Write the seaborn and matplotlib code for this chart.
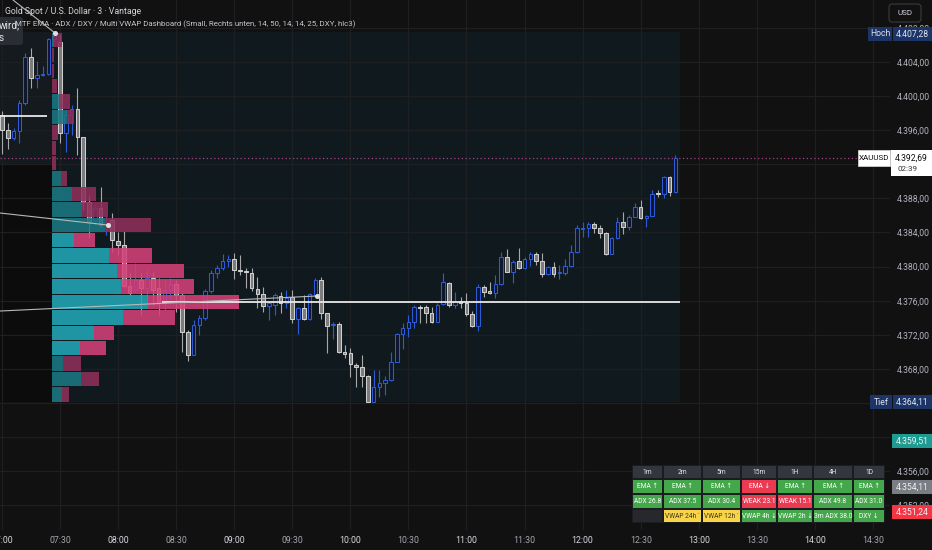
import matplotlib
matplotlib.use("Agg")
import numpy as np
import pandas as pd
import matplotlib.pyplot as plt
import seaborn as sns
from matplotlib.patches import Rectangle, FancyBboxPatch
from matplotlib.transforms import blended_transform_factory

# ---------------- data ----------------
time_labels = ["07:00", "07:30", "08:00", "08:30", "09:00", "09:30", "10:00", "10:30",
               "11:00", "11:30", "12:00", "12:30", "13:00", "13:30", "14:00", "14:30"]
candles_per_label = 10  # 3-minute candles, label every 30 minutes

opens = [4397.77, 4396.01, 4395.07, 4395.89, 4399.18, 4404.57, 4402.11, 4402.46, 4402.57, 4406.68,
         4406.33, 4395.66, 4397.77, 4398.47, 4395.19, 4387.57, 4385.46, 4386.87, 4384.87, 4385.46,
         4383.00, 4382.53, 4377.72, 4377.25, 4378.43, 4377.49, 4378.66, 4377.49, 4375.73, 4377.25,
         4377.96, 4376.67, 4372.33, 4369.63, 4373.15, 4373.97, 4377.14, 4379.25, 4379.83, 4380.65,
         4380.89, 4379.60, 4379.48, 4379.25, 4377.37, 4376.78, 4375.38, 4375.49, 4376.55, 4375.73,
         4376.43, 4373.85, 4375.14, 4373.85, 4376.67, 4378.43, 4374.56, 4373.15, 4373.27, 4369.98,
         4369.87, 4368.46, 4368.23, 4367.17, 4364.12, 4365.88, 4366.35, 4366.70, 4368.81, 4372.10,
         4372.80, 4373.50, 4375.26, 4375.26, 4374.56, 4373.50, 4375.61, 4378.07, 4375.49, 4375.96,
         4375.73, 4374.44, 4373.03, 4377.60, 4377.02, 4376.90, 4377.96, 4381.12, 4379.36, 4380.65,
         4379.83, 4380.89, 4381.47, 4380.65, 4379.13, 4379.95, 4379.19, 4379.25, 4380.07, 4381.71,
         4384.46, 4384.52, 4384.99, 4384.52, 4383.94, 4381.47, 4383.35, 4385.22, 4384.64, 4385.81,
         4386.98, 4385.69, 4385.93, 4388.62, 4388.51, 4390.50, 4388.74]
highs = [4398.24, 4396.83, 4396.24, 4399.53, 4405.04, 4405.62, 4404.10, 4403.51, 4406.80, 4407.28,
         4407.15, 4398.35, 4398.94, 4400.93, 4395.19, 4388.39, 4387.22, 4389.33, 4386.05, 4386.28,
         4384.05, 4384.17, 4379.25, 4380.42, 4379.25, 4379.60, 4379.36, 4378.66, 4378.43, 4378.66,
         4378.43, 4376.90, 4372.56, 4373.74, 4374.32, 4377.37, 4379.60, 4380.18, 4381.47, 4381.36,
         4381.59, 4381.36, 4379.83, 4379.83, 4378.78, 4377.60, 4375.96, 4376.90, 4377.02, 4377.25,
         4377.25, 4375.26, 4376.67, 4376.90, 4378.66, 4378.78, 4374.56, 4373.50, 4373.50, 4370.81,
         4370.45, 4368.70, 4369.63, 4367.29, 4367.87, 4367.87, 4367.17, 4369.98, 4372.21, 4373.38,
         4374.32, 4375.49, 4375.49, 4375.49, 4375.26, 4375.73, 4379.25, 4378.19, 4377.02, 4376.43,
         4376.90, 4374.79, 4377.96, 4377.84, 4378.19, 4379.01, 4381.71, 4382.06, 4380.77, 4382.18,
         4381.12, 4381.71, 4381.71, 4381.59, 4380.07, 4380.54, 4380.18, 4380.89, 4382.53, 4384.87,
         4385.22, 4385.22, 4385.22, 4384.87, 4384.05, 4383.47, 4385.81, 4386.40, 4386.05, 4387.45,
         4387.80, 4386.05, 4388.98, 4388.98, 4390.62, 4390.62, 4393.08]
lows = [4393.20, 4393.78, 4394.84, 4394.49, 4398.94, 4400.93, 4400.93, 4402.34, 4402.46, 4406.33,
        4394.49, 4393.43, 4395.42, 4393.08, 4386.63, 4383.35, 4384.87, 4384.64, 4383.70, 4381.71,
        4381.36, 4377.60, 4376.67, 4377.02, 4374.32, 4376.08, 4375.49, 4374.32, 4374.91, 4376.32,
        4374.67, 4369.98, 4368.93, 4369.63, 4371.98, 4373.74, 4376.90, 4378.66, 4379.60, 4379.95,
        4378.54, 4379.01, 4377.49, 4377.14, 4375.14, 4374.67, 4373.74, 4374.32, 4374.56, 4375.14,
        4373.38, 4372.10, 4373.74, 4373.74, 4376.43, 4373.85, 4369.87, 4371.51, 4369.87, 4369.28,
        4367.05, 4365.88, 4365.88, 4364.11, 4364.11, 4364.71, 4364.94, 4366.59, 4368.81, 4370.34,
        4371.74, 4372.80, 4373.38, 4373.38, 4373.38, 4373.50, 4375.49, 4375.26, 4375.14, 4375.14,
        4374.21, 4372.92, 4372.45, 4376.43, 4376.78, 4376.32, 4377.84, 4379.36, 4378.07, 4379.72,
        4379.72, 4380.07, 4380.18, 4378.78, 4379.01, 4378.78, 4378.54, 4379.01, 4379.95, 4381.59,
        4383.47, 4383.47, 4383.94, 4383.35, 4381.36, 4381.47, 4383.23, 4383.82, 4384.29, 4385.81,
        4385.58, 4384.64, 4385.93, 4388.16, 4388.04, 4388.27, 4388.62]
closes = [4396.01, 4395.07, 4395.89, 4399.18, 4404.57, 4402.11, 4402.46, 4402.57, 4406.68, 4407.03,
          4395.66, 4397.77, 4398.47, 4395.19, 4387.57, 4385.22, 4386.87, 4384.87, 4385.11, 4383.11,
          4382.53, 4377.72, 4376.90, 4378.43, 4377.49, 4378.66, 4377.25, 4375.73, 4377.25, 4377.96,
          4376.67, 4372.33, 4369.63, 4373.15, 4373.97, 4377.14, 4379.25, 4379.83, 4380.65, 4380.89,
          4379.60, 4379.48, 4379.42, 4377.49, 4376.78, 4375.38, 4375.73, 4376.67, 4375.73, 4376.32,
          4373.85, 4375.14, 4373.85, 4376.78, 4378.43, 4374.56, 4373.03, 4373.27, 4369.98, 4369.75,
          4368.58, 4368.23, 4367.17, 4364.12, 4365.88, 4366.35, 4366.70, 4368.81, 4372.10, 4372.80,
          4373.50, 4375.26, 4375.20, 4374.56, 4373.50, 4375.49, 4378.19, 4375.49, 4375.96, 4375.73,
          4374.44, 4373.03, 4377.60, 4377.02, 4376.96, 4377.96, 4381.12, 4379.36, 4380.54, 4379.83,
          4380.89, 4381.47, 4380.65, 4379.13, 4379.95, 4379.13, 4379.25, 4380.07, 4381.71, 4384.52,
          4384.52, 4384.99, 4384.52, 4383.94, 4381.47, 4383.35, 4385.22, 4384.64, 4385.81, 4386.98,
          4385.69, 4385.93, 4388.51, 4388.51, 4390.50, 4388.74, 4392.69]

# volume profile rows (top -> bottom), buy / sell volume (arbitrary units)
profile_buy = [2, 0, 0, 0, 7, 15, 0, 0, 0, 9, 20, 30, 53, 22, 57, 65, 69, 96, 71, 42, 28, 11, 29, 10]
profile_sell = [8, 2, 2, 5, 11, 7, 6, 4, 4, 6, 24, 26, 46, 21, 43, 67, 73, 91, 52, 20, 26, 18, 18, 7]
value_area_rows = [13, 14, 15, 16, 17, 18, 19, 20]

poc_price = 4375.79
last_price = 4392.69
countdown = "02:39"
day_high = 4407.28
day_low = 4364.11
level_prices = [4359.51, 4354.11, 4351.24]
level_colors = ["#1f9c91", "#7b7d84", "#f23645"]
price_ticks = [4352, 4356, 4360, 4368, 4372, 4376, 4380, 4384, 4388, 4396, 4400, 4404, 4408]
grid_prices = list(range(4352, 4409, 4))

# drawn trend lines (candle index, price)
line_a = ([-0.33, 18.27], [4386.28, 4384.87])
line_b = ([-0.33, 54.26], [4374.79, 4376.55])
line_c = ([1.91, 9.14], [4411.25, 4407.38])
line_left = ([-0.33, 7.77], [4397.69, 4397.69])
old_box_split = 4391.9

# dashboard table
tbl_head = ["1m", "2m", "5m", "15m", "1H", "4H", "1D"]
tbl_ema = ["EMA ↑", "EMA ↑", "EMA ↑", "EMA ↓", "EMA ↑", "EMA ↑", "EMA ↑"]
tbl_ema_state = ["g", "g", "g", "r", "g", "g", "g"]
tbl_adx = ["ADX 26.8", "ADX 37.5", "ADX 30.4", "WEAK 23.1", "WEAK 15.1", "ADX 49.8", "ADX 31.0"]
tbl_adx_state = ["g", "g", "g", "r", "r", "g", "g"]
tbl_vwap = ["", "VWAP 24h ˙", "VWAP 12h ˙", "VWAP 4h ↓", "VWAP 2h ↓", "3m ADX 38.0", "DXY ↓"]
tbl_vwap_state = ["e", "y", "y", "g", "g", "g", "g"]

# ---------------- style ----------------
BG = "#111111"
BOX = "#101a1e"
GRID = "#1d1f21"
BULL_EDGE = "#2c5ad8"
BULL_FACE = "#0e1630"
BEAR_EDGE = "#cfcfcf"
BEAR_FACE = "#7c7c7c"
BEAR_WICK = "#a8a8a8"
TXT = "#b2b5be"

sns.set_theme(style="dark", rc={"axes.facecolor": BG, "figure.facecolor": BG})
plt.rcParams["font.family"] = ["Roboto", "DejaVu Sans"]

fig = plt.figure(figsize=(9.32, 5.5), dpi=100)
fig.patch.set_facecolor(BG)
ax = fig.add_axes([0, 20 / 550, 890 / 932, 530 / 550])
ax.set_facecolor(BG)
for s in ax.spines.values():
    s.set_visible(False)
ax.grid(False)

n = len(opens)
xmin, xmax = -0.33, 152.94
ymin, ymax = 4349.12, 4411.25
ax.set_xlim(xmin, xmax)
ax.set_ylim(ymin, ymax)

# grid
tick_idx = np.arange(len(time_labels)) * candles_per_label
for t in tick_idx:
    ax.axvline(t, color=GRID, lw=0.9, zorder=0.6)
for p in grid_prices:
    ax.axhline(p, color=GRID, lw=0.9, zorder=0.6)

# boxes (volume-profile background)
prof_top = max(highs) + 0.2
prof_bot = min(lows)
box_left, box_right = 8.7, n - 0.25
ax.add_patch(Rectangle((box_left, prof_bot), box_right - box_left, prof_top - prof_bot,
                       facecolor=BOX, edgecolor="none", zorder=0.3))
ax.add_patch(Rectangle((xmin, old_box_split), box_left - xmin, prof_top - old_box_split,
                       facecolor="#141a1e", edgecolor="none", zorder=0.3))
ax.add_patch(Rectangle((xmin, prof_bot), box_left - xmin, old_box_split - prof_bot,
                       facecolor="#0c0c0c", edgecolor="none", zorder=0.3))

# candles
df = pd.DataFrame({"open": opens, "high": highs, "low": lows, "close": closes})
df["i"] = np.arange(n)
df["up"] = df["close"] >= df["open"]
for up, wick, fc, ec in [(True, BULL_EDGE, BULL_FACE, BULL_EDGE), (False, BEAR_WICK, BEAR_FACE, BEAR_EDGE)]:
    sub = df[df["up"] == up]
    ax.vlines(sub["i"].to_numpy(), sub["low"].to_numpy(), sub["high"].to_numpy(),
              color=wick, lw=0.8, zorder=2)
    bottom = np.minimum(sub["open"], sub["close"]).to_numpy()
    height = np.maximum((sub["close"] - sub["open"]).abs().to_numpy(), 0.12)
    ax.bar(sub["i"].to_numpy(), height, bottom=bottom, width=0.62, color=fc,
           edgecolor=ec, linewidth=0.75, zorder=2.5)

# volume profile
px_per_candle = 5.807
rows = len(profile_buy)
row_h = (prof_top - prof_bot) / rows
centers = prof_top - (np.arange(rows) + 0.5) * row_h
buy_w = np.array(profile_buy) / px_per_candle
sell_w = np.array(profile_sell) / px_per_candle
teal_c = ["#22a8b8" if r in value_area_rows else "#1b7884" for r in range(rows)]
pink_c = ["#d6417a" if r in value_area_rows else "#8f2f5b" for r in range(rows)]
ax.barh(centers, buy_w, left=box_left, height=row_h - 0.12, color=teal_c, alpha=0.87, zorder=3, linewidth=0)
ax.barh(centers, sell_w, left=box_left + buy_w, height=row_h - 0.12, color=pink_c, alpha=0.87, zorder=3, linewidth=0)

# POC + drawn lines
ax.hlines(poc_price, 27.5, box_right, color="#e8e8e8", lw=1.3, zorder=4)
ax.hlines(line_left[1][0], line_left[0][0], line_left[0][1], color="#e8e8e8", lw=1.3, zorder=4)
for ln in (line_a, line_b, line_c):
    ax.plot(ln[0], ln[1], color="#b8b8b8", lw=0.8, zorder=4)
    ax.plot(ln[0][1], ln[1][1], "o", ms=2.6, color="#e0e0e0", zorder=4.5)
ax.hlines(last_price, xmin, xmax, color="#a04482", lw=0.9, linestyles=(0, (1, 2)), zorder=1.8)

# axes ticks
def de(v):
    return f"{v:,.2f}".replace(",", "X").replace(".", ",").replace("X", ".")

ax.yaxis.tick_right()
ax.set_yticks(price_ticks)
ax.set_yticklabels([de(p) for p in price_ticks])
ax.set_xticks(tick_idx)
ax.set_xticklabels(time_labels)
ax.tick_params(axis="y", length=0, pad=5, labelsize=6.2, labelcolor=TXT)
ax.tick_params(axis="x", length=0, pad=4, labelsize=6.3, labelcolor=TXT)
for lbl in ax.get_xticklabels():
    if lbl.get_text().endswith(":00"):
        lbl.set_color("#d6d8de")
    else:
        lbl.set_color("#a3a6ae")

# ---------------- overlay (pixel coordinates) ----------------
ov = fig.add_axes([0, 0, 1, 1], zorder=5)
ov.set_xlim(0, 932)
ov.set_ylim(550, 0)
ov.axis("off")
ov.patch.set_alpha(0)
blend = blended_transform_factory(ov.transData, ax.transData)
ppu = 530 / (ymax - ymin)  # pixels per price unit


def badge(x0, x1, price, text, fc, tc, h=14, size=6.2):
    hh = h / ppu
    ov.add_patch(Rectangle((x0, price - hh / 2), x1 - x0, hh, transform=blend,
                           facecolor=fc, edgecolor="none", clip_on=False, zorder=6))
    ov.text((x0 + x1) / 2, price, text, transform=blend, ha="center", va="center",
            color=tc, fontsize=size, clip_on=False, zorder=7)


# tooltip box top-left
ov.add_patch(FancyBboxPatch((-8, 17), 31, 28, boxstyle="round,pad=0,rounding_size=3",
                            facecolor="#2a2d33", edgecolor="none", zorder=5))
ov.text(-1, 25, "wird,", color="#e6e6e6", fontsize=7.2, va="center", ha="left", zorder=6)
ov.text(-1, 38, "s", color="#e6e6e6", fontsize=7.2, va="center", ha="left", zorder=6)

# legend text
ov.text(5, 12, "Gold Spot / U.S. Dollar · 3 · Vantage", color="#d1d4dc", fontsize=6.3,
        va="center", ha="left", zorder=7)
ov.text(15, 24, "MTF EMA · ADX / DXY / Multi VWAP Dashboard (Small, Rechts unten, 14, 50, 14, 14, 25, DXY, hlc3)",
        color="#c4c7ce", fontsize=5.7, va="center", ha="left", zorder=7)

# USD box
ov.add_patch(FancyBboxPatch((889, 4), 32, 18, boxstyle="round,pad=0,rounding_size=3",
                            facecolor=BG, edgecolor="#3a3b3e", lw=0.8, zorder=6))
ov.text(905, 13, "USD", color="#d1d4dc", fontsize=5.8, ha="center", va="center", zorder=7)

# price badges
badge(868, 892, day_high, "Hoch", "#1c3566", "#dfe3ee")
badge(893, 932, day_high, de(day_high), "#1c3566", "#dfe3ee")
badge(870, 892, day_low, "Tief", "#1c3566", "#dfe3ee")
badge(893, 932, day_low, de(day_low), "#1c3566", "#dfe3ee")
for p, col in zip(level_prices, level_colors):
    badge(892, 932, p, de(p), col, "#f2f2f2")

# last price badge
hh = 1 / ppu
ov.add_patch(Rectangle((858, last_price - 8 * hh), 32, 16 * hh, transform=blend, facecolor="#ffffff",
                       edgecolor="#cfcfcf", lw=0.6, clip_on=False, zorder=6))
ov.text(874, last_price, "XAUUSD", transform=blend, ha="center", va="center", color="#111111",
        fontsize=5.8, zorder=7)
ov.add_patch(Rectangle((891, last_price - 18 * hh), 41, 26 * hh, transform=blend, facecolor="#ffffff",
                       edgecolor="none", clip_on=False, zorder=6))
ov.text(911, last_price, de(last_price), transform=blend, ha="center", va="center", color="#111111",
        fontsize=6.2, zorder=7)
ov.text(897, last_price - 11 * hh, countdown, transform=blend, ha="left", va="center", color="#333333",
        fontsize=5.8, zorder=7)

# dashboard table
col_edges = [632, 663, 702, 741, 777, 813, 853, 885]
row_edges = [465, 479, 494, 509, 523]
state_col = {"g": "#45a74b", "r": "#ec3a52", "y": "#f8d548", "e": "#26282d", "h": "#33363d"}
text_col = {"g": "#ffffff", "r": "#ffffff", "y": "#3a3320", "e": "#ffffff", "h": "#e4e6ea"}
ov.add_patch(Rectangle((col_edges[0], row_edges[0]), col_edges[-1] - col_edges[0],
                       row_edges[-1] - row_edges[0], facecolor="#1b1c1f", edgecolor="none", zorder=6))
table_rows = [(tbl_head, ["h"] * 7), (tbl_ema, tbl_ema_state), (tbl_adx, tbl_adx_state),
              (tbl_vwap, tbl_vwap_state)]
for r, (texts, states) in enumerate(table_rows):
    y0, y1 = row_edges[r], row_edges[r + 1]
    for c, (t, s) in enumerate(zip(texts, states)):
        x0, x1 = col_edges[c], col_edges[c + 1]
        ov.add_patch(Rectangle((x0 + 0.6, y0 + 0.6), x1 - x0 - 1.2, y1 - y0 - 1.2,
                               facecolor=state_col[s], edgecolor="none", zorder=6.5))
        if t:
            ov.text((x0 + x1) / 2, (y0 + y1) / 2 + 0.3, t, ha="center", va="center",
                    color=text_col[s], fontsize=4.8, zorder=7)

fig.savefig("out.png", dpi=100, facecolor=BG)
